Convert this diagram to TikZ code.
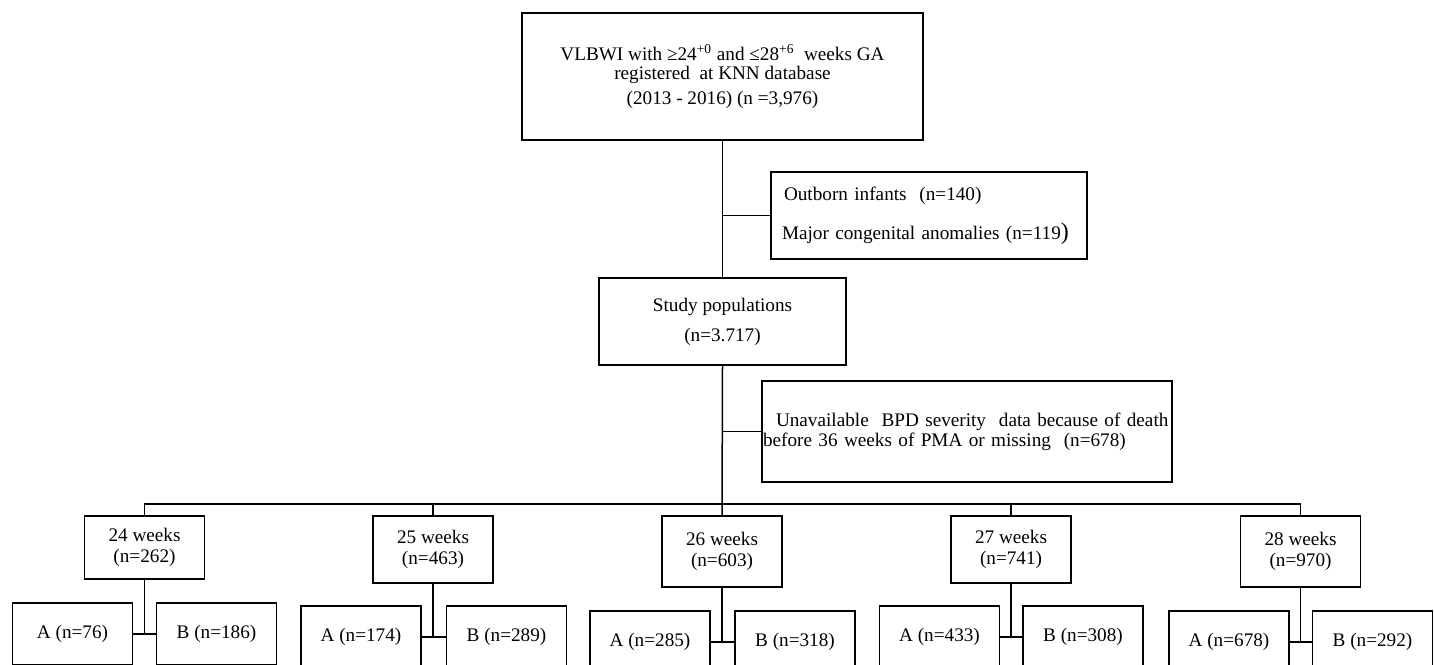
\documentclass[tikz,border=0pt]{standalone}
\usepackage{fontspec}
\setmainfont{Liberation Serif}
\usetikzlibrary{positioning}

\begin{document}
\begin{tikzpicture}[x=0.5pt,y=-0.5pt,
  font=\fontsize{9.6}{11.5}\selectfont,
  box/.style={draw, line width=0.75pt, inner sep=0pt, align=center},
  wk/.style={box, minimum width=60pt, font=\fontsize{9.6}{10.5}\selectfont},
  grp/.style={box, minimum width=60pt, minimum height=31pt},
  link/.style={line width=0.75pt}]
  \clip (0,0) rectangle (1434,664);

  % registry and exclusions
  \node[box, minimum width=200.5pt, minimum height=63.5pt,
        font=\fontsize{9.6}{9.5}\selectfont] (reg) at (722.5,76.5)
    {VLBWI with ≥24\textsuperscript{+0} and ≤28\textsuperscript{+6}\ \ weeks GA\\
     registered\ \ at KNN database\\[3pt]
     (2013 - 2016) (n =3,976)};
  \node[box, minimum width=158pt, minimum height=43.5pt,
        text width=158pt, align=left] (ex1) at (929,215.5)
    {\hspace*{6.5pt}Outborn infants\ \ (n=140)\\[8pt]
     \hspace*{5.5pt}Major congenital anomalies (n=119{\large)}};
  \node[box, minimum width=123.5pt, minimum height=43.5pt] (pop) at (722.5,321.5)
    {Study populations\\[3.5pt] (n=3.717)};
  \node[box, minimum width=205pt, minimum height=50.5pt, inner xsep=0.5pt,
        text width=204pt, align=left, font=\fontsize{9.6}{10}\selectfont] (ex2) at (967,431.5)
    {\hspace*{6.5pt}Unavailable\ \ BPD severity\ \ data because of death\\
     before\ 36 weeks of PMA or missing\ \ (n=678)};

  % gestational age groups
  \node[wk, minimum height=31.5pt] (w24) at (144.5,547.5) {24 weeks\\(n=262)};
  \node[wk, minimum height=33.5pt] (w25) at (433,549.5) {25 weeks\\(n=463)};
  \node[wk, minimum height=35.5pt] (w26) at (722,551.5) {26 weeks\\(n=603)};
  \node[wk, minimum height=33.5pt] (w27) at (1011,549.5) {27 weeks\\(n=741)};
  \node[wk, minimum height=35.5pt] (w28) at (1300.5,551.5) {28 weeks\\(n=970)};

  \node[grp] (a24) at (72.5,634) {A (n=76)};
  \node[grp] (b24) at (216.5,634) {B (n=186)};
  \node[grp] (a25) at (361,637) {A (n=174)};
  \node[grp] (b25) at (506.5,637) {B (n=289)};
  \node[grp] (a26) at (650,642) {A (n=285)};
  \node[grp] (b26) at (795,642) {B (n=318)};
  \node[grp] (a27) at (939.5,637) {A (n=433)};
  \node[grp] (b27) at (1083,637) {B (n=308)};
  \node[grp] (a28) at (1229,642) {A (n=678)};
  \node[grp] (b28) at (1372.5,642) {B (n=292)};

  % connectors
  \coordinate (bus) at (722,504);
  \draw[link] (reg.south) -- (pop.north);
  \draw[link] (reg.south |- ex1.west) -- (ex1.west);
  \draw[link] (pop.south) -- (w26.north);
  \draw[link] (pop.south |- ex2.west) -- (ex2.west);
  \draw[link] (w24.north) |- (w28.north |- bus) -- (w28.north);
  \draw[link] (w25.north) -- (w25.north |- bus);
  \draw[link] (w27.north) -- (w27.north |- bus);

  \draw[link] (w24.south) -- (w24.south |- a24.east);
  \draw[link] (a24.east) -- (b24.west);
  \draw[link] (w25.south) -- (w25.south |- a25.east);
  \draw[link] (a25.east) -- (b25.west);
  \draw[link] (w26.south) -- (w26.south |- a26.east);
  \draw[link] (a26.east) -- (b26.west);
  \draw[link] (w27.south) -- (w27.south |- a27.east);
  \draw[link] (a27.east) -- (b27.west);
  \draw[link] (w28.south) -- (w28.south |- a28.east);
  \draw[link] (a28.east) -- (b28.west);
\end{tikzpicture}
\end{document}
